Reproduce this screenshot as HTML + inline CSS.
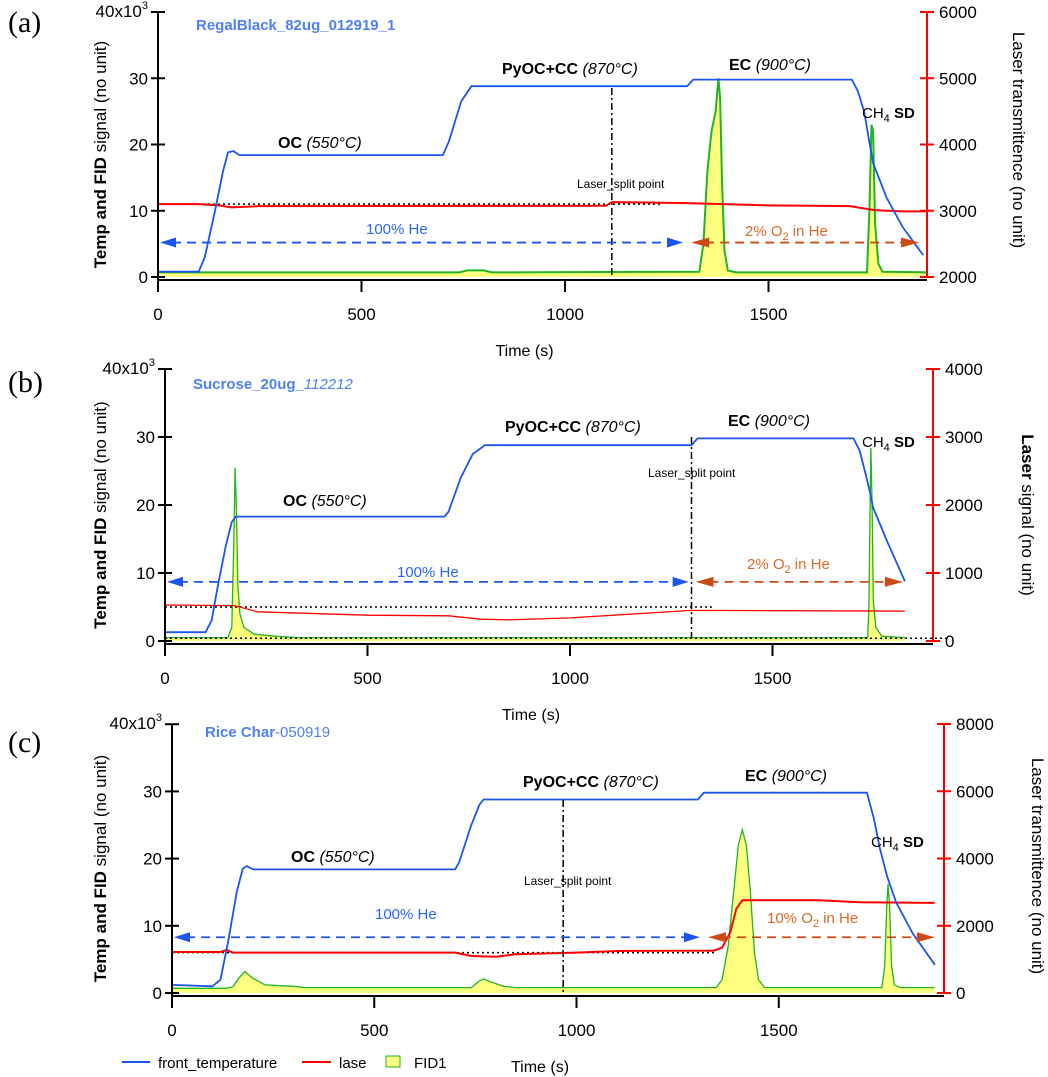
<!DOCTYPE html>
<html><head><meta charset="utf-8"><style>
html,body{margin:0;padding:0;background:#fff;}
svg{display:block;font-family:"Liberation Sans",Arial,sans-serif;}
</style></head><body>
<svg id="chart" width="1048" height="1077" viewBox="0 0 1048 1077" xmlns="http://www.w3.org/2000/svg"></svg>
<script>
// ---- Panel A data (time s, temp/FID in thousands, laser in right-axis units)
const tempA = [[0,0.8],[100,0.8],[115,3],[140,10],[160,16],[172,18.8],[185,19],[200,18.4],[700,18.4],[715,20.5],[745,26.5],[770,28.8],[1300,28.8],[1315,29.8],[1705,29.8],[1720,28],[1735,25],[1750,19.6],[1757,17.2],[1790,12],[1830,7.5],[1880,3.3]];
const laserA = [[0,3100],[100,3100],[150,3080],[180,3050],[250,3070],[1100,3075],[1115,3130],[1300,3115],[1500,3080],[1700,3070],[1760,3010],[1830,2990],[1890,2990]];
const fidA = [[0,0.7],[740,0.7],[760,1.0],[800,1.0],[820,0.7],[1330,0.8],[1340,5],[1350,16],[1360,22],[1370,25],[1377,30],[1381,27],[1386,14],[1392,4],[1400,1],[1420,0.7],[1742,0.7],[1748,10],[1753,23],[1757,22],[1762,8],[1770,2],[1780,0.8],[1890,0.7]];
// ---- Panel B data
const tempB = [[0,1.3],[100,1.3],[115,3],[130,8],[150,14],[165,17.5],[175,18.3],[690,18.3],[700,19],[730,24],[760,27.5],[790,28.8],[1300,28.8],[1315,29.8],[1700,29.8],[1715,28],[1730,24.5],[1741,21.8],[1748,19.7],[1782,14.8],[1827,8.8]];
const laserB = [[0,530],[170,520],[230,430],[500,380],[700,370],[780,320],[850,310],[1000,340],[1300,450],[1827,440]];
const fidB = [[0,0.5],[155,0.5],[165,2],[170,15],[173,25.5],[176,20],[180,8],[185,4],[195,2],[220,1],[270,0.7],[330,0.5],[1735,0.5],[1738,5],[1741,20],[1743,28.4],[1746,20],[1749,6],[1755,2],[1770,0.7],[1827,0.5]];
// ---- Panel C data
const tempC = [[0,1.2],[100,1.0],[120,2],[140,8],[160,15],[175,18.5],[185,18.9],[200,18.4],[700,18.4],[710,19.5],[740,25],[760,28],[770,28.8],[1300,28.8],[1315,29.8],[1718,29.8],[1735,26],[1750,21.5],[1768,17.3],[1790,13.5],[1832,8.8],[1886,4.2]];
const laserC = [[0,1220],[120,1220],[135,1280],[150,1200],[700,1200],[740,1100],[800,1080],[850,1150],[1000,1200],[1100,1250],[1340,1260],[1360,1350],[1380,1800],[1395,2500],[1410,2760],[1600,2760],[1700,2700],[1885,2680]];
const fidC = [[0,0.7],[130,0.7],[150,0.9],[165,2.2],[180,3.2],[200,2.2],[230,1.2],[300,1.0],[330,0.8],[740,0.8],[760,1.8],[770,2.1],[790,1.6],[820,1.0],[850,0.8],[1345,0.8],[1360,2],[1375,7],[1390,16],[1400,22],[1410,24.3],[1420,22],[1430,15],[1440,6],[1450,2],[1465,0.8],[1755,0.8],[1762,4],[1767,13],[1770,16.2],[1774,13],[1779,4],[1786,1.2],[1800,0.8],[1885,0.8]];
const xTicks = [0,500,1000,1500];
const leftTicks = [0,10,20,30,40];
const rightTicksA = [2000,3000,4000,5000,6000];
const rightTicksB = [0,1000,2000,3000,4000];
const rightTicksC = [0,2000,4000,6000,8000];

const NS="http://www.w3.org/2000/svg";
const svg=document.getElementById('chart');
function mk(tag,attrs,parent){const e=document.createElementNS(NS,tag);for(const k in attrs)e.setAttribute(k,attrs[k]);(parent||svg).appendChild(e);return e;}
function txt(x,y,html,attrs,parent){const e=mk('text',Object.assign({x:x,y:y},attrs||{}),parent);e.innerHTML=html;return e;}

function panel(c){
  const g=mk('g',{});
  
  
  const X=t=>c.x0+t*c.k;
  const Y=v=>c.yb-v*c.py/10;
  const R=v=>c.yb-(v-c.rmin)/(c.rmax-c.rmin)*(c.yb-c.top);
  const ax=c.yb+3;
  let d='M'+X(c.fid[0][0])+','+Y(0);
  c.fid.forEach(p=>{d+=' L'+X(p[0]).toFixed(1)+','+Y(p[1]).toFixed(1);});
  d+=' L'+X(c.fid[c.fid.length-1][0])+','+Y(0)+' Z';
  const ff=mk('path',{d:d,fill:'#ffff80',stroke:'none'},g);
  
  
  const fl=mk('polyline',{points:c.fid.map(p=>X(p[0]).toFixed(1)+','+Y(p[1]).toFixed(1)).join(' '),fill:'none',stroke:'#22b422','stroke-width':c.fw},g);
  
  
  c.dots.forEach(r=>{mk('line',{x1:c.x0,x2:X(r[1]),y1:R(r[0]),y2:R(r[0]),stroke:'#000','stroke-width':1.5,'stroke-dasharray':'2,3'},g);});
  const ll=mk('polyline',{points:c.laser.map(p=>X(p[0]).toFixed(1)+','+R(p[1]).toFixed(1)).join(' '),fill:'none',stroke:'#f00','stroke-width':c.lw},g);
  
  
  const tl=mk('polyline',{points:c.temp.map(p=>X(p[0]).toFixed(1)+','+Y(p[1]).toFixed(1)).join(' '),fill:'none',stroke:'#1a55ee','stroke-width':1.8},g);
  
  
  const sl=mk('line',{x1:X(c.split),x2:X(c.split),y1:c.splitTop,y2:c.yb,stroke:'#000','stroke-width':1.5,'stroke-dasharray':'7,3,2,3'},g);
  
  
  const ay=Y(c.arrowV);
  const bx=X(c.blueEnd);
  mk('line',{x1:c.x0+14,x2:bx-14,y1:ay,y2:ay,stroke:'#1a55ee','stroke-width':1.8,'stroke-dasharray':'9,6'},g);
  mk('polygon',{points:`${c.x0+2},${ay} ${c.x0+18},${ay-5} ${c.x0+18},${ay+5}`,fill:'#1a55ee'},g);
  mk('polygon',{points:`${bx},${ay} ${bx-16},${ay-5} ${bx-16},${ay+5}`,fill:'#1a55ee'},g);
  const ox1=X(c.orStart), ox2=X(c.orEnd);
  mk('line',{x1:ox1+14,x2:ox2-14,y1:ay,y2:ay,stroke:'#cc4a14','stroke-width':1.8,'stroke-dasharray':'9,6'},g);
  mk('polygon',{points:`${ox1},${ay} ${ox1+18},${ay-5} ${ox1+18},${ay+5}`,fill:'#cc4a14'},g);
  mk('polygon',{points:`${ox2},${ay} ${ox2-18},${ay-5} ${ox2-18},${ay+5}`,fill:'#cc4a14'},g);
  mk('line',{x1:c.x0,x2:c.x0,y1:c.top,y2:ax+12,stroke:'#000','stroke-width':2},g);
  mk('line',{x1:c.x0,x2:c.rx,y1:ax,y2:ax,stroke:'#000','stroke-width':2},g);
  mk('line',{x1:c.rx,x2:c.rx,y1:c.top,y2:c.yb,stroke:'#f00','stroke-width':2},g);
  leftTicks.forEach(v=>{
    mk('line',{x1:c.x0-7,x2:c.x0+7,y1:Y(v),y2:Y(v),stroke:'#000','stroke-width':2},g);
    if(v<40) txt(c.x0-10,Y(v)+6,String(v),{'text-anchor':'end','font-size':17},g);
  });
  txt(c.x0-10,Y(40)+5,'40x10<tspan dy="-8" font-size="11">3</tspan>',{'text-anchor':'end','font-size':17},g);
  xTicks.forEach(v=>{
    mk('line',{x1:X(v),x2:X(v),y1:ax,y2:ax+12,stroke:'#000','stroke-width':2},g);
    txt(X(v),ax+40,String(v),{'text-anchor':'middle','font-size':17},g);
  });
  c.rt.forEach(v=>{
    mk('line',{x1:c.rx-7,x2:c.rx+7,y1:R(v),y2:R(v),stroke:'#f00','stroke-width':2},g);
    txt(c.rx+12,R(v)+6,String(v),{'font-size':17},g);
  });
  const xt=txt(c.x0+(c.rx-c.x0)/2-18,ax+76,'Time (s)',{'text-anchor':'middle','font-size':16},g);
  
  
  const yc=(c.top+c.yb)/2+10;
  const yt=txt(0,0,'<tspan font-weight="bold">Temp and FID</tspan> signal (no unit)',{'text-anchor':'middle','font-size':17,transform:`translate(106,${yc}) rotate(-90)`},g);
  
  
  const rt=txt(0,0,c.rtitle,{'text-anchor':'middle','font-size':17,'font-family':'"Liberation Sans",Arial,sans-serif',transform:`translate(${c.rtx},${c.rty}) rotate(90)`},g);
  
  
  txt(8,c.labY,c.label,{'font-family':'"Liberation Serif",serif','font-size':30},g);
  txt(c.titleX,c.titleY,c.title,{fill:'#4f7ff5','font-size':15,'font-weight':'bold'},g);
  txt(c.oc[0],c.oc[1],'<tspan font-weight="bold">OC</tspan> <tspan font-style="italic">(550°C)</tspan>',{'font-size':16},g);
  txt(c.py_[0],c.py_[1],'<tspan font-weight="bold">PyOC+CC</tspan> <tspan font-style="italic">(870°C)</tspan>',{'font-size':16},g);
  txt(c.ec[0],c.ec[1],'<tspan font-weight="bold">EC</tspan> <tspan font-style="italic">(900°C)</tspan>',{'font-size':16},g);
  txt(c.ch[0],c.ch[1],'CH<tspan dy="4" font-size="11">4</tspan><tspan dy="-4" font-weight="bold"> SD</tspan>',{'font-size':15},g);
  txt(c.ls[0],c.ls[1],'Laser_split point',{'font-size':12},g);
  txt(c.he[0],c.he[1],'100% He',{'font-size':15,fill:'#2a66ee'},g);
  txt(c.o2[0],c.o2[1],c.o2t+' O<tspan dy="4" font-size="11">2</tspan><tspan dy="-4"> in He</tspan>',{'font-size':15,fill:'#d9692a'},g);
}

panel({name:'panel-a',label:'(a)',labY:32,x0:158,k:0.407,yb:277,py:66.25,top:12,rx:927,rmin:2000,rmax:6000,rt:rightTicksA,
 temp:tempA,laser:laserA,fid:fidA,fw:2,lw:2,dots:[[3100,1240]],split:1115,splitTop:88,arrowV:5.2,blueEnd:1290,orStart:1310,orEnd:1870,
 rtitle:'Laser transmittence (no unit)',rtx:1013,rty:140,title:'RegalBlack_82ug_012919_1',titleX:196,titleY:30,
 oc:[278,148],py_:[502,74],ec:[729,70],ch:[862,118],ls:[577,188],he:[366,234],o2:[745,236],o2t:'2%'});
panel({name:'panel-b',label:'(b)',labY:392,x0:165,k:0.405,yb:641,py:68,top:369,rx:933,rmin:0,rmax:4000,rt:rightTicksB,
 temp:tempB,laser:laserB,fid:fidB,fw:1.3,lw:1.3,dots:[[500,1358],[40,1930]],split:1300,splitTop:437,arrowV:8.7,blueEnd:1293,orStart:1310,orEnd:1822,
 rtitle:'<tspan font-weight="bold">Laser</tspan> signal (no unit)',rtx:1022,rty:515,title:'Sucrose_20ug_<tspan font-weight="normal" font-style="italic">112212</tspan>',titleX:193,titleY:389,
 oc:[283,506],py_:[505,432],ec:[728,426],ch:[862,447],ls:[648,477],he:[397,577],o2:[747,569],o2t:'2%'});
panel({name:'panel-c',label:'(c)',labY:752,x0:172,k:0.4045,yb:993,py:67.2,top:724,rx:944,rmin:0,rmax:8000,rt:rightTicksC,
 temp:tempC,laser:laserC,fid:fidC,fw:1.3,lw:2,dots:[[1200,1345]],split:967,splitTop:800,arrowV:8.3,blueEnd:1305,orStart:1325,orEnd:1886,
 rtitle:'Laser transmittence (no unit)',rtx:1032,rty:866,title:'Rice Char<tspan font-weight="normal">-050919</tspan>',titleX:205,titleY:737,
 oc:[291,862],py_:[523,787],ec:[745,781],ch:[871,847],ls:[524,885],he:[375,919],o2:[767,923],o2t:'10%'});

const lg=mk('g',{});


mk('line',{x1:122,x2:150,y1:1062,y2:1062,stroke:'#1a55ee','stroke-width':2},lg);
txt(158,1068,'front_temperature',{'font-size':15},lg);
mk('line',{x1:302,x2:331,y1:1062,y2:1062,stroke:'#f00','stroke-width':2},lg);
txt(339,1068,'lase',{'font-size':15},lg);
mk('rect',{x:386,y:1056,width:14,height:11,fill:'#ffff80',stroke:'#22b422','stroke-width':1},lg);
txt(414,1068,'FID1',{'font-size':15},lg);
</script>
</body></html>
